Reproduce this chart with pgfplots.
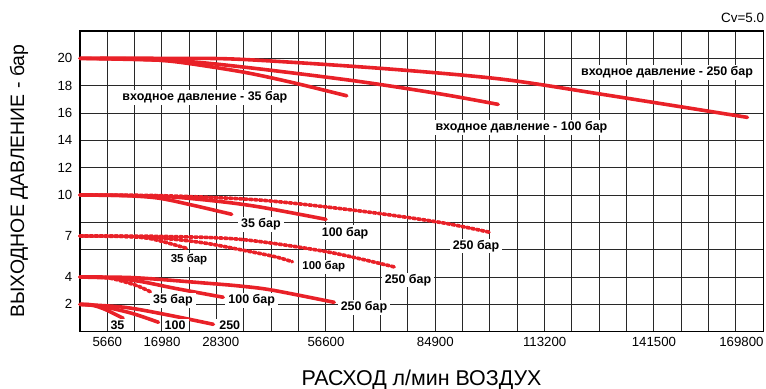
\documentclass[border=0pt]{standalone}
\usepackage{fontspec}
\setmainfont{Liberation Sans}
\usepackage{pgfplots}
\pgfplotsset{compat=1.18}
\definecolor{cred}{RGB}{233,33,40}
\definecolor{gridc}{RGB}{40,40,40}
\tikzset{lab/.style={fill=white, inner xsep=3bp, inner ysep=1.5bp, text=black, font=\bfseries\fontsize{12.5}{13}\selectfont}}
\begin{document}
\begin{tikzpicture}
\path[use as bounding box] (-80bp,-57.3bp) rectangle (686bp,331.7bp);
\begin{axis}[
  at={(0,0)}, anchor=south west,
  scale only axis, width=683.3bp, height=300.7bp,
  xmin=0, xmax=25, ymin=0, ymax=22,
  xtick={0,1,...,25}, xticklabels={},
  ytick={0,2,...,22}, yticklabels={},
  grid=major,
  grid style={draw=gridc, line width=1.0bp},
  extra x ticks={1,3,5.15,9,13,17,21,24.2},
  extra x tick labels={5660,16980,28300,56600,84900,113200,141500,169800},
  extra y ticks={2,4,7,10,12,14,16,18,20},
  extra y tick labels={2,4,7,10,12,14,16,18,20},
  extra tick style={grid=none},
  major tick length=0pt, minor tick length=0pt,
  axis line style={black, line width=1.3bp},
  tick label style={font=\fontsize{13.3}{14}\selectfont},
  xticklabel style={inner sep=0pt, anchor=north, yshift=-5.5bp},
  yticklabel style={inner sep=0pt, anchor=east, xshift=-7.5bp},
  every axis plot/.append style={draw=cred, line width=3.6bp, line cap=round, smooth, no markers},
  clip=false,
]
% top group (20 bar outlet)
\addplot+[cred] coordinates {(0,20) (2,19.95) (3.5,19.75) (5.9,19.02) (7.75,18.24) (9.76,17.26)};
\addplot+[cred] coordinates {(0,20) (3.5,19.82) (5.9,19.38) (10.06,18.35) (13.17,17.4) (15.3,16.63)};
\addplot+[cred] coordinates {(0,20) (3,20.0) (5.85,19.93) (10.98,19.27) (15.37,18.49) (19.03,17.39) (24.42,15.68)};
% 10 bar
\addplot+[cred] coordinates {(0,10) (1.5,9.97) (2.85,9.78) (4.09,9.27) (5.55,8.59)};
\addplot+[cred] coordinates {(0,10) (3,9.9) (5,9.55) (6.59,9.12) (9.0,8.22)};
\addplot+[cred] coordinates {(0,10) (3,9.95) (6.59,9.63) (10.25,8.83) (13.17,8.0) (15.0,7.27)};
% 7 bar
\addplot+[cred] coordinates {(0,7) (1.5,6.98) (2.6,6.8) (3.9,6.1)};
\addplot+[cred] coordinates {(0,7) (2,6.95) (3.5,6.75) (4.68,6.45) (6,5.95) (7.13,5.49) (7.77,5.12)};
\addplot+[cred] coordinates {(0,7) (3,6.97) (5.85,6.76) (9.03,5.85) (11.56,4.71)};
% 4 bar
\addplot+[cred] coordinates {(0,4) (1,3.95) (2.01,3.42) (2.62,2.88)};
\addplot+[cred] coordinates {(0,4) (1.2,3.92) (2.26,3.66) (3.48,3.17) (5.24,2.52)};
\addplot+[cred] coordinates {(0,4) (2,3.95) (4.69,3.54) (5.85,3.34) (7.01,3.05) (9.3,2.15)};
% 2 bar
\addplot+[cred] coordinates {(0,2) (0.4,1.97) (0.91,1.64) (1.58,0.98)};
\addplot+[cred] coordinates {(0,2) (0.8,1.85) (1.89,1.35) (2.87,0.69)};
\addplot+[cred] coordinates {(0,2) (1.65,1.78) (3.23,1.22) (4.88,0.54)};
% labels
\node[lab] at (axis cs:4.57,17.12) {входное давление - 35 бар};
\node[lab] at (axis cs:16.15,14.95) {входное давление - 100 бар};
\node[lab] at (axis cs:21.48,18.95) {входное давление - 250 бар};
\node[lab] at (axis cs:6.62,7.86) {35 бар};
\node[lab] at (axis cs:9.70,7.24) {100 бар};
\node[lab] at (axis cs:14.49,6.27) {250 бар};
\node[lab, font=\bfseries\fontsize{11.5}{12}\selectfont] at (axis cs:3.99,5.25) {35 бар};
\node[lab, font=\bfseries\fontsize{11.5}{12}\selectfont] at (axis cs:8.92,4.76) {100 бар};
\node[lab] at (axis cs:12.0,3.78) {250 бар};
\node[lab] at (axis cs:3.40,2.27) {35 бар};
\node[lab] at (axis cs:6.28,2.27) {100 бар};
\node[lab] at (axis cs:10.39,1.76) {250 бар};
\node[lab] at (axis cs:1.37,0.49) {35};
\node[lab] at (axis cs:3.48,0.49) {100};
\node[lab] at (axis cs:5.48,0.49) {250};
\end{axis}
\node[rotate=90, font=\fontsize{19.5}{20}\selectfont] at (-61bp,150.7bp) {ВЫХОДНОЕ ДАВЛЕНИЕ - бар};
\node[font=\fontsize{21.5}{22}\selectfont] at (341.5bp,-48.3bp) {РАСХОД л/мин ВОЗДУХ};
\node[anchor=east, inner sep=0pt, font=\fontsize{13.5}{14}\selectfont] at (684.3bp,313.4bp) {Cv=5.0};
\end{tikzpicture}
\end{document}
